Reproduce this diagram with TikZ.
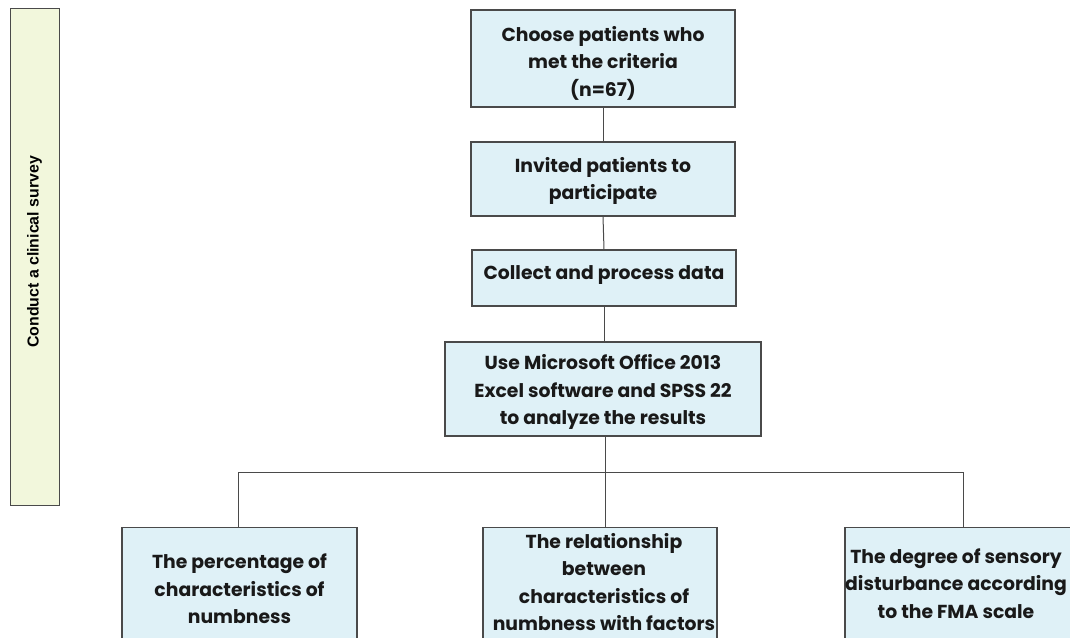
\documentclass[tikz,border=0pt]{standalone}
\usepackage{fontspec}
\setmainfont{Poppins}
\newfontfamily\barfont{Liberation Sans}
\definecolor{boxfill}{HTML}{DFF1F7}
\definecolor{barfill}{HTML}{F2F7DC}
\definecolor{edge}{HTML}{4A4A4A}
\tikzset{
  flowbox/.style={draw=edge, line width=1.1pt, fill=boxfill, inner sep=0pt},
  flowtext/.style={align=center, inner sep=0pt,
    font=\fontsize{18.8}{27.5}\selectfont\bfseries, text=black!90},
  link/.style={draw=edge, line width=1pt},
}
\begin{document}
\begin{tikzpicture}[x=1pt,y=-1pt]
\useasboundingbox (0,0) rectangle (1070,637);
\clip (0,0) rectangle (1070,637);
\fill[white] (0,0) rectangle (1070,637);
% side bar
\node[draw=edge, line width=1pt, fill=barfill, minimum width=49pt, minimum height=497pt, inner sep=0pt,
  anchor=north west] (bar) at (10,8) {};
\node[rotate=90, font=\barfont\fontsize{15.9}{18}\selectfont\bfseries] (bartext) at (34.5,252) {Conduct a clinical survey};
% main boxes
\node[flowbox, minimum width=264pt, minimum height=97pt] (b1) at (603,58.5) {};
\node[flowtext] (b1t) at (603,63) {Choose patients who\\met the criteria\\(n=67)};
\node[flowbox, minimum width=264pt, minimum height=74pt] (b2) at (603,179) {};
\node[flowtext] (b2t) at (603,181) {Invited patients to\\participate};
\node[flowbox, minimum width=264pt, minimum height=56pt] (b3) at (604,278) {};
\node[flowtext] (b3t) at (604,275) {Collect and process data};
\node[flowbox, minimum width=316pt, minimum height=94pt] (b4) at (603,389) {};
\node[flowtext] (b4t) at (603,392) {Use Microsoft Office 2013\\Excel software and SPSS 22\\to analyze the results};
% bottom boxes
\node[flowbox, minimum width=235pt, minimum height=126pt, anchor=north] (c1) at (239.5,527) {};
\node[flowtext] (c1t) at (239.5,589) {The percentage of\\characteristics of\\numbness};
\node[flowbox, minimum width=234pt, minimum height=117pt, anchor=north] (c2) at (600,527) {};
\node[flowtext] (c2t) at (604,582) {The relationship\\between\\characteristics of\\numbness with factors};
\node[flowbox, minimum width=236pt, minimum height=112pt, anchor=north] (c3) at (963,527) {};
\node[flowtext] (c3t) at (956,583.5) {The degree of sensory\\disturbance according\\to the FMA scale};
% connectors
\coordinate (j) at (605,472);
\coordinate (jl) at (238,472);
\coordinate (jr) at (963,472);
\draw[link] (b1.south) -- (b2.north);
\draw[link] (b2.south) -- (b3.north);
\draw[link] (b3.south) -- (b3.south |- b4.north);
\draw[link] (b4.south -| j) -- (j);
\draw[link] (j) -- (c2.north -| j);
\draw[link] (jl) -- (jr);
\draw[link] (jl) -- (c1.north -| jl);
\draw[link] (jr) -- (c3.north -| jr);
\end{tikzpicture}
\end{document}
